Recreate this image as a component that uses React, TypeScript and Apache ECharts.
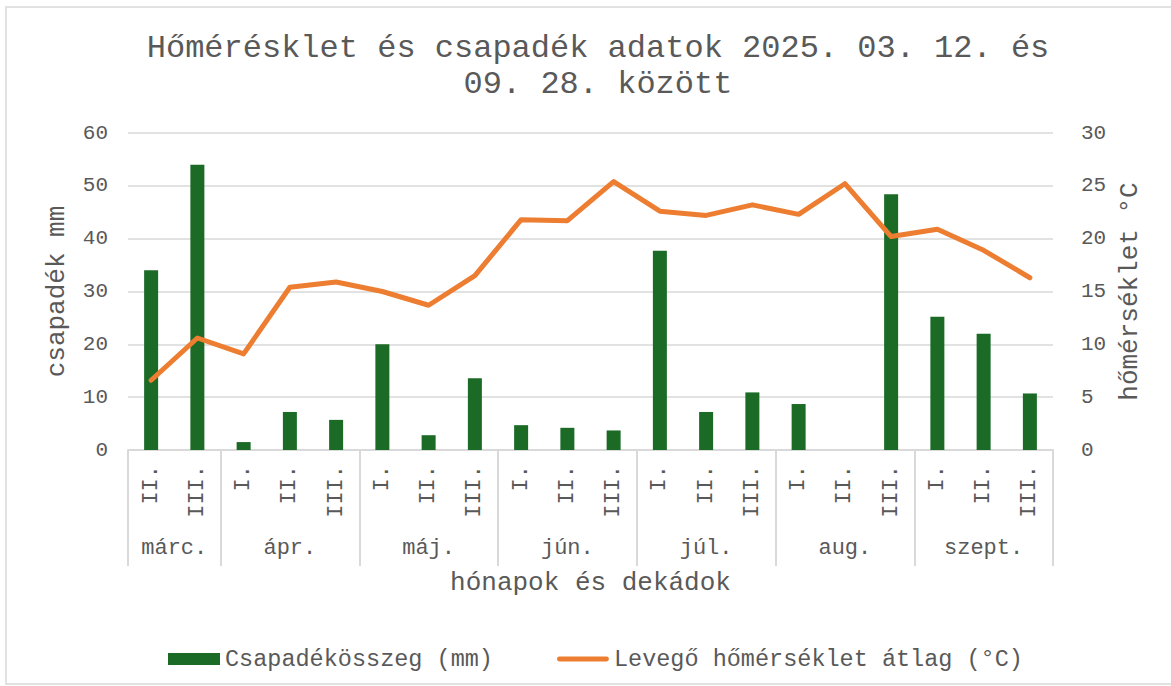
import React, { useEffect, useRef } from "react";
import * as echarts from "echarts";

const decades = ["II.", "III.", "I.", "II.", "III.", "I.", "II.", "III.", "I.", "II.", "III.", "I.", "II.", "III.", "I.", "II.", "III.", "I.", "II.", "III."];
const months = ["márc.", "ápr.", "máj.", "jún.", "júl.", "aug.", "szept."];
const monthDecadeCounts = [2, 3, 3, 3, 3, 3, 3];
const precipitation = [34, 54, 1.5, 7.2, 5.7, 20, 2.8, 13.6, 4.7, 4.2, 3.7, 37.7, 7.2, 10.9, 8.7, 0, 48.4, 25.2, 22, 10.7];
const temperature = [6.6, 10.6, 9.1, 15.4, 15.9, 15.0, 13.7, 16.5, 21.8, 21.7, 25.4, 22.6, 22.2, 23.2, 22.3, 25.2, 20.2, 20.9, 18.9, 16.3];
const leftTicks = { min: 0, max: 60, interval: 10 };
const rightTicks = { min: 0, max: 30, interval: 5 };

const FONT = "'Liberation Mono', 'Courier New', monospace";
const TEXT = "#595959";
const GRID = "#d9d9d9";

export default function App() {
  const ref = useRef<HTMLDivElement>(null);
  useEffect(() => {
    if (!ref.current) return;
    const chart = echarts.init(ref.current, undefined, { renderer: "svg" });

    const boundaries: number[] = [];
    const centers: Record<string, string> = {};
    let acc = 0;
    monthDecadeCounts.forEach((n, i) => {
      boundaries.push(acc);
      centers[String(acc + n / 2)] = months[i];
      acc += n;
    });
    const boundarySet = new Set(boundaries);

    chart.setOption({
      animation: false,
      backgroundColor: "#ffffff",
      textStyle: { fontFamily: FONT },
      graphic: [
        {
          type: "rect",
          shape: { x: 6, y: 7, width: 1200, height: 677 },
          style: { fill: "none", stroke: GRID, lineWidth: 1.5 },
          silent: true,
        },
      ],
      title: {
        text: "Hőmérésklet és csapadék adatok 2025. 03. 12. és\n09. 28. között",
        left: 593,
        textAlign: "center",
        top: 25,
        textStyle: { fontFamily: FONT, fontSize: 32, fontWeight: "normal", color: TEXT, lineHeight: 36 },
      },
      legend: {
        left: 163,
        top: 642,
        itemWidth: 52,
        itemHeight: 12,
        itemGap: 64,
        textStyle: { fontFamily: FONT, fontSize: 23.5, color: TEXT },
        data: [
          { name: "Csapadékösszeg (mm)", icon: "rect" },
          {
            name: "Levegő hőmérséklet átlag (°C)",
            icon: "path://M2.5,0 L51.5,0 A2.5,2.5 0 0 1 51.5,5 L2.5,5 A2.5,2.5 0 0 1 2.5,0 Z",
          },
        ],
      },
      grid: { left: 128, right: 118, top: 133, bottom: 236 },
      xAxis: [
        {
          type: "category",
          data: decades,
          position: "bottom",
          name: "hónapok és dekádok",
          nameLocation: "middle",
          nameGap: 120,
          nameTextStyle: { fontFamily: FONT, fontSize: 26, color: TEXT },
          axisLine: { show: true, lineStyle: { color: GRID, width: 2 } },
          axisTick: {
            show: true,
            length: 116,
            interval: (index: number) => boundarySet.has(index),
            lineStyle: { color: GRID, width: 2 },
          },
          axisLabel: { interval: 0, rotate: 90, margin: 15, fontFamily: FONT, fontSize: 22, color: TEXT },
          splitLine: { show: false },
        },
        {
          type: "value",
          position: "bottom",
          min: 0,
          max: decades.length,
          interval: 0.5,
          axisLine: { show: false },
          axisTick: { show: false },
          splitLine: { show: false },
          axisLabel: {
            margin: 87,
            fontFamily: FONT,
            fontSize: 22,
            color: TEXT,
            showMinLabel: true,
            showMaxLabel: true,
            formatter: (v: number) => centers[String(v)] || "",
          },
        },
      ],
      yAxis: [
        {
          type: "value",
          ...leftTicks,
          position: "left",
          name: "csapadék mm",
          nameLocation: "middle",
          nameGap: 58,
          nameTextStyle: { fontFamily: FONT, fontSize: 26, color: TEXT },
          axisLine: { show: false },
          axisTick: { show: false },
          axisLabel: { margin: 20, fontFamily: FONT, fontSize: 21, color: TEXT },
          splitLine: { show: true, lineStyle: { color: GRID, width: 1.5 } },
        },
        {
          type: "value",
          ...rightTicks,
          position: "right",
          name: "hőmérséklet °C",
          nameLocation: "middle",
          nameGap: 62,
          nameTextStyle: { fontFamily: FONT, fontSize: 26, color: TEXT },
          axisLine: { show: false },
          axisTick: { show: false },
          axisLabel: { margin: 28, fontFamily: FONT, fontSize: 21, color: TEXT },
          splitLine: { show: false },
        },
      ],
      series: [
        {
          name: "Csapadékösszeg (mm)",
          type: "bar",
          xAxisIndex: 0,
          yAxisIndex: 0,
          data: precipitation,
          barWidth: 14,
          itemStyle: { color: "#1b6a25" },
        },
        {
          name: "Levegő hőmérséklet átlag (°C)",
          type: "line",
          xAxisIndex: 0,
          yAxisIndex: 1,
          data: temperature,
          symbol: "none",
          showSymbol: false,
          lineStyle: { color: "#ed7d31", width: 5, cap: "round", join: "round" },
          itemStyle: { color: "#ed7d31" },
        },
      ],
    });
    return () => chart.dispose();
  }, []);

  return (
    <div
      ref={ref}
      style={{ position: "fixed", left: 0, top: 0, width: 1171, height: 686 }}
    />
  );
}
